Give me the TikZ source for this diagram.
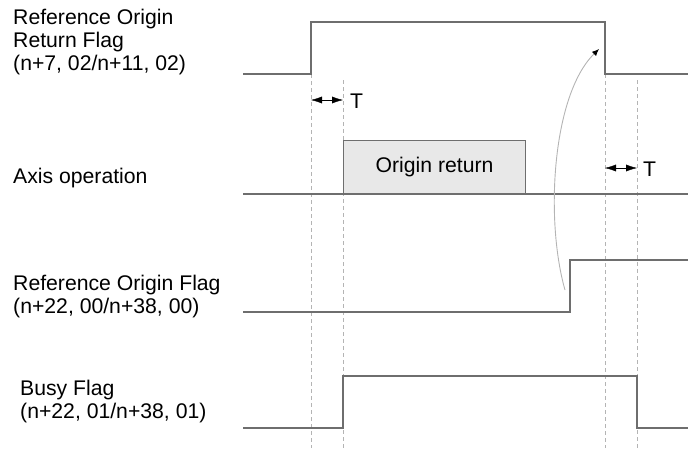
\documentclass[tikz,border=0pt]{standalone}
\usepackage{fontspec}
\setmainfont{Liberation Sans}
\usepackage{tikz}
\usetikzlibrary{arrows.meta,positioning}
\definecolor{WaveGray}{HTML}{6E6E6E}
\definecolor{GuideGray}{HTML}{B4B4B4}
\definecolor{BoxFill}{HTML}{E8E8E8}

\begin{document}
\begin{tikzpicture}[x=1pt,y=-1pt,>=Latex,
  wave/.style={WaveGray,line width=1.7pt},
  guide/.style={GuideGray,line width=0.9pt,dash pattern=on 4pt off 3pt},
  sigtext/.style={anchor=base west,align=left,inner sep=0pt,
                  font=\fontsize{21.2}{23}\selectfont},
  tlabel/.style={anchor=west,inner sep=0pt,font=\fontsize{21.2}{23}\selectfont},
  tdelay/.style={{Latex[length=11pt,width=7pt]}-{Latex[length=11pt,width=7pt]},thin}]
  \useasboundingbox (0,0) rectangle (688,448);

  % guides first, so that the waveforms are drawn over them
  \draw[guide] (311,74)--(311,448);
  \draw[guide] (343,80)--(343,448);
  \draw[guide] (605,74)--(605,448);
  \draw[guide] (637,80)--(637,448);

  % signal names (base = baseline of the last line)
  \node[sigtext] (retflag) at (13,70)
      {Reference Origin\\Return Flag\\(n+7, 02/n+11, 02)};
  \node[sigtext] (axisop) at (13,183) {Axis operation};
  \node[sigtext] (refflag) at (13,313)
      {Reference Origin Flag\\(n+22, 00/n+38, 00)};
  \node[sigtext] (busy) at (20,418) {Busy Flag\\(n+22, 01/n+38, 01)};

  % waveforms
  \draw[wave] (243,74)--(311,74)--(311,22)--(605,22)--(605,74)--(688,74);
  \draw[wave] (243,194)--(688,194);
  \node[draw=WaveGray,line width=1.2pt,fill=BoxFill,anchor=south west,
        minimum width=182pt,minimum height=53pt,inner sep=0pt,
        font=\fontsize{21.2}{23}\selectfont] (orret) at (343,194)
      {Origin return};
  \draw[wave] (243,312)--(570,312)--(570,260)--(688,260);
  \draw[wave] (243,428)--(343,428)--(343,376)--(637,376)--(637,428)--(688,428);

  % delay T
  \coordinate (t1a) at (311,100);
  \coordinate (t1b) at (343,100);
  \draw[tdelay] (t1a)--(t1b);
  \node[tlabel] (t1) at (350,101) {T};
  \coordinate (t2a) at (605,168);
  \coordinate (t2b) at (637,168);
  \draw[tdelay] (t2a)--(t2b);
  \node[tlabel] (t2) at (643,169) {T};

  % reference origin reached -> return flag goes off
  \coordinate (flagrise) at (565,290);
  \coordinate (flagoff) at (599,49);
  \draw[GuideGray,line width=0.9pt,-{Latex[black,length=7pt,width=6pt]}]
      (flagrise) .. controls (545,220) and (552,95) .. (flagoff);
\end{tikzpicture}
\end{document}
